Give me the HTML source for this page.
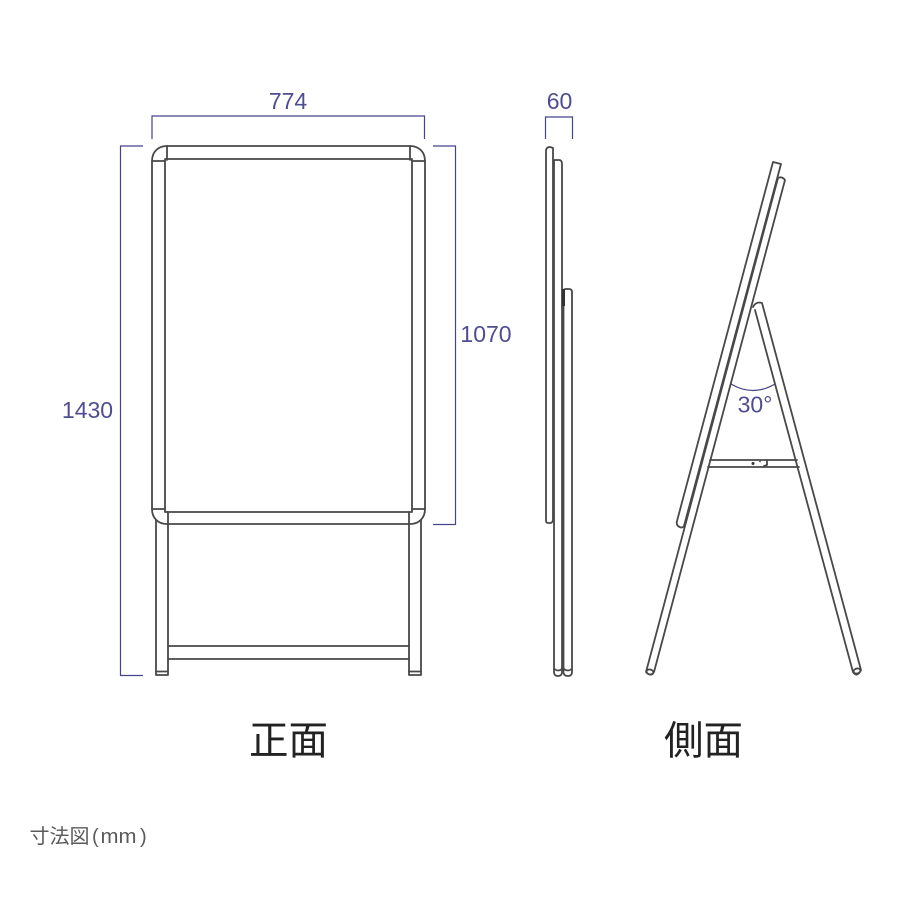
<!DOCTYPE html>
<html>
<head>
<meta charset="utf-8">
<style>
html,body{margin:0;padding:0;background:#fff;width:900px;height:900px;overflow:hidden}
svg{display:block}
.f{fill:none;stroke:#484848;stroke-width:1.8;stroke-linejoin:round;stroke-linecap:round}
.d{fill:none;stroke:#46448a;stroke-width:1.2}
.n{font-family:"Liberation Sans",sans-serif;font-size:23px;fill:#4f4d92;text-anchor:middle}
.t{font-family:"Liberation Sans","Noto Sans CJK JP",sans-serif;font-size:39.5px;fill:#222;text-anchor:middle}
.c{font-family:"Liberation Sans","Noto Sans CJK JP",sans-serif;font-size:20px;fill:#5a5a5a}
</style>
</head>
<body>
<svg width="900" height="900" viewBox="0 0 900 900" xmlns="http://www.w3.org/2000/svg">
<rect width="900" height="900" fill="#fff"/>

<!-- Dimension lines -->
<path class="d" d="M152 139V116H424.500V139"/>
<path class="d" d="M143 146H120.500V675.500H143"/>
<path class="d" d="M433 146H455.500V524.500H433"/>
<path class="d" d="M545.500 139V117H572.500V139"/>
<path class="d" d="M731 384Q753 397 775 384"/>

<text class="n" x="288" y="109">774</text>
<text class="n" x="559.500" y="109">60</text>
<text class="n" x="87.500" y="418">1430</text>
<text class="n" x="486" y="342">1070</text>
<text class="n" x="755" y="412.500">30°</text>

<!-- Front view -->
<path class="f" d="M152 161C152 152 158 146 167 146H410C419 146 425 152 425 161V509C425 518 419 524 410 524H167C158 524 152 518 152 509Z"/>
<path class="f" d="M165 509V159H412V512H165V509"/>
<path class="f" d="M167 146V160M152 161H165M410 146V160M425 161H412M152 509H165M425 509H412M168 512V524M409 512V524"/>
<path class="f" d="M156 520V675H168V524M421 520V675H409V524"/>
<path class="f" d="M156 671.500H168M409 671.500H421M168 646H409M168 659H409"/>

<!-- Middle side view -->
<path class="f" d="M546 521V151Q546 147 550 147L553 148V519Q553 523 550 523H549Q546 523 546 521Z"/>
<path class="f" d="M554 160H559Q562 160 562 164V672Q562 676 558 676Q554 676 554 672Z"/>
<path class="f" d="M563.500 291Q563.500 289 566 289H569Q572 289 572 292V672Q572 676 568 676Q563.500 676 563.500 672Z"/>
<rect x="562" y="289" width="3" height="17" fill="#333"/>
<path class="f" stroke-width="1" d="M554.500 669Q558 672 562 669M564 669Q568 672 571.500 669"/>

<!-- Right side view -->
<path class="f" d="M773 162L781 164L684 526Q682 529 678 526Q676 524 677 521Z"/>
<path class="f" d="M778 178Q782 176 785 180L654 672Q650 677 646 672Z"/>
<ellipse class="f" cx="650" cy="672" rx="3.500" ry="2.500" transform="rotate(15 650 672)"/>
<path class="f" d="M753 307Q756 301 762 303L861 670Q857 678 853 672L755 310"/>
<ellipse class="f" cx="857" cy="671" rx="3.500" ry="2.500" transform="rotate(-15 857 671)"/>
<path class="f" d="M710 460H797M708 467H799"/>
<circle cx="753" cy="463.500" r="1.500" fill="#333"/>
<circle cx="760" cy="461.500" r="0.800" fill="#333"/>
<path class="f" stroke-width="1" d="M767 461V465L764 466"/>

<!-- Labels -->
<text class="t" x="288.500" y="754.500">正面</text>
<text class="t" x="703.500" y="754.500">側面</text>
<text class="c" x="29.500" y="843">寸法図</text>
<text class="c" x="92" y="843">(</text>
<text class="c" x="100.500" y="843" textLength="36" lengthAdjust="spacingAndGlyphs">mm</text>
<text class="c" x="140" y="843">)</text>
</svg>
</body>
</html>
